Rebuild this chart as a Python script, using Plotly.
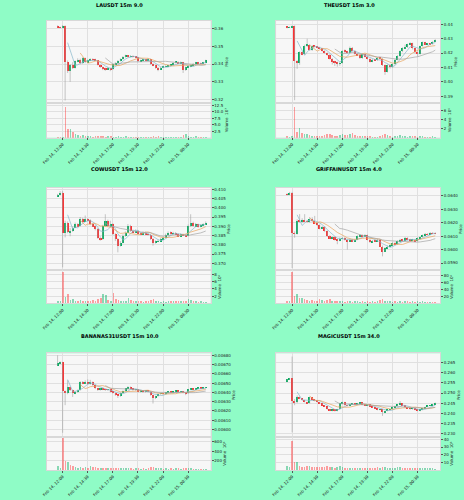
import pandas as pd
import plotly.graph_objects as go

# ---------------- data ----------------
times = pd.date_range("2025-02-14 11:30", periods=60, freq="15min")
tick_times = ["2025-02-14 12:00", "2025-02-14 14:30", "2025-02-14 17:00",
              "2025-02-14 19:30", "2025-02-14 22:00", "2025-02-15 00:30"]
titles = ["LAUSDT 15m 9.0", "THEUSDT 15m 3.0", "COWUSDT 15m 12.0",
          "GRIFFAINUSDT 15m 4.0", "BANANAS31USDT 15m 10.0", "MAGICUSDT 15m 34.0"]
mav_windows = [5, 10, 20]

lau_open = [0.3612,0.3606,0.3604,0.3613,0.3413,0.3362,0.3395,0.3380,0.3415,0.3425,0.3405,0.3432,0.3410,0.3420,0.3428,0.3426,0.3420,0.3395,0.3382,0.3375,0.3372,0.3378,0.3370,0.3398,0.3405,0.3418,0.3428,0.3440,0.3446,0.3442,0.3445,0.3440,0.3438,0.3415,0.3420,0.3425,0.3422,0.3428,0.3400,0.3392,0.3380,0.3372,0.3380,0.3385,0.3388,0.3390,0.3395,0.3408,0.3412,0.3405,0.3410,0.3368,0.3382,0.3385,0.3392,0.3402,0.3408,0.3405,0.3402,0.3408]
lau_high = [0.3616,0.3610,0.3618,0.3616,0.3420,0.3400,0.3410,0.3420,0.3432,0.3430,0.3438,0.3436,0.3425,0.3432,0.3432,0.3430,0.3422,0.3398,0.3386,0.3380,0.3384,0.3380,0.3402,0.3410,0.3422,0.3432,0.3444,0.3452,0.3450,0.3450,0.3448,0.3444,0.3440,0.3424,0.3430,0.3428,0.3432,0.3430,0.3404,0.3395,0.3384,0.3384,0.3390,0.3392,0.3394,0.3398,0.3412,0.3416,0.3415,0.3414,0.3412,0.3386,0.3390,0.3396,0.3406,0.3412,0.3412,0.3408,0.3412,0.3424]
lau_low = [0.3603,0.3600,0.3601,0.3196,0.3350,0.3300,0.3372,0.3375,0.3410,0.3398,0.3400,0.3405,0.3406,0.3416,0.3420,0.3416,0.3392,0.3378,0.3366,0.3362,0.3368,0.3360,0.3366,0.3396,0.3402,0.3414,0.3424,0.3436,0.3438,0.3438,0.3436,0.3432,0.3410,0.3412,0.3416,0.3418,0.3418,0.3396,0.3388,0.3374,0.3360,0.3368,0.3378,0.3382,0.3384,0.3386,0.3392,0.3404,0.3400,0.3400,0.3350,0.3362,0.3378,0.3382,0.3390,0.3398,0.3400,0.3398,0.3400,0.3404]
lau_close = [0.3606,0.3604,0.3613,0.3413,0.3362,0.3395,0.3380,0.3415,0.3425,0.3405,0.3432,0.3410,0.3420,0.3428,0.3426,0.3420,0.3395,0.3382,0.3375,0.3372,0.3378,0.3370,0.3398,0.3405,0.3418,0.3428,0.3440,0.3446,0.3442,0.3445,0.3440,0.3438,0.3415,0.3420,0.3425,0.3422,0.3428,0.3400,0.3392,0.3380,0.3372,0.3380,0.3385,0.3388,0.3390,0.3395,0.3408,0.3412,0.3405,0.3410,0.3368,0.3382,0.3385,0.3392,0.3402,0.3408,0.3405,0.3402,0.3408,0.3420]
lau_vol_1e7 = [0.4,0.3,0.5,11.7,3.3,3.4,2.1,1.6,1.0,0.8,1.2,0.7,0.6,0.9,0.5,0.6,0.8,0.7,0.6,0.5,0.7,0.6,0.4,0.5,0.6,0.5,0.4,0.7,0.5,0.4,0.3,0.4,0.5,0.3,0.4,0.3,0.4,0.5,0.6,0.4,0.9,0.5,0.4,0.3,0.4,0.3,0.4,0.5,0.3,0.4,1.1,1.4,0.6,0.5,0.4,0.6,0.3,0.4,0.3,0.2]

the_open = [0.4382,0.4377,0.4380,0.4388,0.4145,0.4130,0.4205,0.4192,0.4250,0.4258,0.4220,0.4250,0.4246,0.4240,0.4232,0.4215,0.4200,0.4188,0.4160,0.4140,0.4136,0.4125,0.4130,0.4215,0.4212,0.4203,0.4238,0.4215,0.4195,0.4185,0.4165,0.4192,0.4175,0.4160,0.4140,0.4152,0.4150,0.4168,0.4160,0.4115,0.4071,0.4118,0.4100,0.4122,0.4155,0.4180,0.4212,0.4235,0.4240,0.4260,0.4268,0.4232,0.4205,0.4195,0.4248,0.4275,0.4262,0.4265,0.4262,0.4280]
the_high = [0.4386,0.4384,0.4392,0.4392,0.4150,0.4212,0.4210,0.4258,0.4300,0.4262,0.4256,0.4254,0.4248,0.4244,0.4236,0.4220,0.4204,0.4192,0.4165,0.4146,0.4140,0.4136,0.4220,0.4225,0.4215,0.4245,0.4242,0.4220,0.4200,0.4190,0.4198,0.4196,0.4180,0.4164,0.4158,0.4158,0.4172,0.4172,0.4164,0.4120,0.4122,0.4124,0.4126,0.4160,0.4185,0.4218,0.4240,0.4258,0.4265,0.4275,0.4272,0.4236,0.4210,0.4252,0.4280,0.4278,0.4270,0.4268,0.4284,0.4296]
the_low = [0.4372,0.4374,0.4376,0.3872,0.4090,0.4118,0.4185,0.4188,0.4242,0.4215,0.4215,0.4240,0.4236,0.4228,0.4210,0.4195,0.4182,0.4155,0.4120,0.4110,0.4105,0.4112,0.4126,0.4200,0.4196,0.4198,0.4210,0.4190,0.4180,0.4160,0.4160,0.4170,0.4155,0.4135,0.4136,0.4145,0.4146,0.4155,0.4110,0.4048,0.4065,0.4092,0.4096,0.4118,0.4150,0.4175,0.4206,0.4228,0.4235,0.4255,0.4225,0.4198,0.4175,0.4190,0.4244,0.4256,0.4258,0.4255,0.4258,0.4276]
the_close = [0.4377,0.4380,0.4388,0.4145,0.4130,0.4205,0.4192,0.4250,0.4258,0.4220,0.4250,0.4246,0.4240,0.4232,0.4215,0.4200,0.4188,0.4160,0.4140,0.4136,0.4125,0.4130,0.4215,0.4212,0.4203,0.4238,0.4215,0.4195,0.4185,0.4165,0.4192,0.4175,0.4160,0.4140,0.4152,0.4150,0.4168,0.4160,0.4115,0.4071,0.4118,0.4100,0.4122,0.4155,0.4180,0.4212,0.4235,0.4240,0.4260,0.4268,0.4232,0.4205,0.4195,0.4248,0.4275,0.4262,0.4265,0.4262,0.4280,0.4292]
the_vol_1e6 = [0.4,0.3,0.4,6.8,1.3,2.2,1.1,0.9,0.9,0.6,0.5,0.5,0.4,0.4,0.5,0.6,0.8,0.9,0.7,0.5,0.4,0.6,0.8,0.7,0.6,0.8,1.1,0.6,0.5,0.4,0.5,0.4,0.5,0.4,0.3,0.3,0.3,0.4,0.7,0.9,0.6,0.4,0.3,0.5,0.4,0.6,0.5,0.4,0.3,0.4,0.5,0.4,0.3,0.5,0.4,0.3,0.2,0.3,0.4,0.3]

cow_open = [0.4065,0.4070,0.4082,0.3867,0.3921,0.3870,0.3876,0.3894,0.3912,0.3903,0.3939,0.3930,0.3939,0.3934,0.3912,0.3903,0.3885,0.3840,0.3831,0.3903,0.3930,0.3903,0.3912,0.3858,0.3831,0.3795,0.3813,0.3849,0.3867,0.3903,0.3876,0.3870,0.3876,0.3861,0.3858,0.3867,0.3858,0.3856,0.3831,0.3813,0.3818,0.3822,0.3831,0.3840,0.3854,0.3867,0.3861,0.3865,0.3858,0.3849,0.3858,0.3854,0.3849,0.3903,0.3921,0.3903,0.3912,0.3897,0.3908,0.3912]
cow_high = [0.4075,0.4090,0.4090,0.3930,0.3926,0.3890,0.3900,0.3920,0.3916,0.3950,0.3946,0.3958,0.3944,0.3938,0.3918,0.3908,0.3890,0.3846,0.3908,0.3965,0.3936,0.3930,0.3916,0.3862,0.3836,0.3820,0.3856,0.3872,0.3912,0.3908,0.3882,0.3882,0.3880,0.3866,0.3872,0.3870,0.3862,0.3860,0.3836,0.3824,0.3828,0.3836,0.3845,0.3860,0.3872,0.3872,0.3870,0.3868,0.3862,0.3862,0.3860,0.3858,0.3910,0.3965,0.3925,0.3918,0.3914,0.3912,0.3916,0.3926]
cow_low = [0.4060,0.4066,0.3678,0.3840,0.3862,0.3846,0.3870,0.3890,0.3896,0.3898,0.3924,0.3926,0.3928,0.3906,0.3896,0.3878,0.3832,0.3822,0.3826,0.3898,0.3896,0.3898,0.3852,0.3820,0.3759,0.3790,0.3808,0.3843,0.3862,0.3870,0.3864,0.3865,0.3856,0.3852,0.3854,0.3852,0.3850,0.3826,0.3795,0.3806,0.3814,0.3818,0.3826,0.3835,0.3850,0.3855,0.3856,0.3852,0.3842,0.3845,0.3848,0.3842,0.3845,0.3896,0.3898,0.3898,0.3892,0.3894,0.3904,0.3908]
cow_close = [0.4070,0.4082,0.3867,0.3921,0.3870,0.3876,0.3894,0.3912,0.3903,0.3939,0.3930,0.3939,0.3934,0.3912,0.3903,0.3885,0.3840,0.3831,0.3903,0.3930,0.3903,0.3912,0.3858,0.3831,0.3795,0.3813,0.3849,0.3867,0.3903,0.3876,0.3870,0.3876,0.3861,0.3858,0.3867,0.3858,0.3856,0.3831,0.3813,0.3818,0.3822,0.3831,0.3840,0.3854,0.3867,0.3861,0.3865,0.3858,0.3849,0.3858,0.3854,0.3849,0.3903,0.3921,0.3903,0.3912,0.3897,0.3908,0.3912,0.3921]
cow_vol_1e6 = [0.5,0.4,8.6,1.7,2.4,0.9,1.0,0.6,0.5,0.7,0.5,0.6,0.4,0.5,0.7,0.6,1.0,1.5,2.4,2.1,0.7,0.5,2.7,1.0,0.9,0.6,0.5,0.6,1.3,0.8,0.5,0.4,0.5,0.4,0.3,0.4,0.5,0.8,1.0,0.6,0.4,0.3,0.4,0.3,0.5,0.4,0.4,0.6,0.5,0.4,0.5,0.6,1.0,0.7,0.6,0.4,0.3,0.4,0.3,0.3]

grif_open = [0.06413,0.06408,0.06420,0.06125,0.06120,0.06218,0.06208,0.06225,0.06213,0.06208,0.06233,0.06213,0.06200,0.06183,0.06158,0.06170,0.06138,0.06100,0.06088,0.06093,0.06075,0.06068,0.06083,0.06088,0.06075,0.06063,0.06075,0.06063,0.06075,0.06100,0.06108,0.06100,0.06108,0.06075,0.06058,0.06068,0.06063,0.06075,0.06025,0.05988,0.06013,0.06025,0.06033,0.06050,0.06043,0.06063,0.06075,0.06068,0.06088,0.06075,0.06068,0.06075,0.06063,0.06088,0.06093,0.06108,0.06118,0.06113,0.06125,0.06123]
grif_high = [0.06418,0.06428,0.06428,0.06135,0.06225,0.06263,0.06232,0.06263,0.06220,0.06240,0.06240,0.06250,0.06205,0.06188,0.06176,0.06175,0.06142,0.06106,0.06098,0.06098,0.06080,0.06090,0.06094,0.06092,0.06080,0.06080,0.06080,0.06080,0.06106,0.06115,0.06112,0.06114,0.06112,0.06080,0.06072,0.06072,0.06080,0.06080,0.06030,0.06018,0.06030,0.06038,0.06055,0.06055,0.06068,0.06080,0.06080,0.06093,0.06092,0.06080,0.06080,0.06080,0.06092,0.06098,0.06112,0.06123,0.06123,0.06130,0.06130,0.06128]
grif_low = [0.06402,0.06404,0.05863,0.06088,0.06112,0.06200,0.06200,0.06205,0.06200,0.06200,0.06205,0.06195,0.06176,0.06150,0.06152,0.06130,0.06094,0.06080,0.06082,0.06068,0.06040,0.06062,0.06078,0.06068,0.06000,0.06058,0.06056,0.06058,0.06070,0.06095,0.06094,0.06096,0.06068,0.06050,0.06052,0.06056,0.06058,0.06020,0.05950,0.05982,0.06008,0.06020,0.06028,0.06036,0.06038,0.06058,0.06062,0.06062,0.06068,0.06062,0.06062,0.06056,0.06058,0.06082,0.06088,0.06104,0.06106,0.06108,0.06116,0.06114]
grif_close = [0.06408,0.06420,0.06125,0.06120,0.06218,0.06208,0.06225,0.06213,0.06208,0.06233,0.06213,0.06200,0.06183,0.06158,0.06170,0.06138,0.06100,0.06088,0.06093,0.06075,0.06068,0.06083,0.06088,0.06075,0.06063,0.06075,0.06063,0.06075,0.06100,0.06108,0.06100,0.06108,0.06075,0.06058,0.06068,0.06063,0.06075,0.06025,0.05988,0.06013,0.06025,0.06033,0.06050,0.06043,0.06063,0.06075,0.06068,0.06088,0.06075,0.06068,0.06075,0.06063,0.06088,0.06093,0.06108,0.06118,0.06113,0.06125,0.06123,0.06120]
grif_vol_1e6 = [6,5,89,20,27,15,13,11,8,7,9,6,7,11,8,6,10,11,7,6,5,6,5,4,6,5,4,5,6,4,5,4,5,4,5,4,6,10,11,7,6,5,4,5,4,5,4,6,5,4,5,4,5,4,5,4,3,4,3,4]

ban_open = [0.006692,0.006710,0.006725,0.006413,0.006387,0.006452,0.006423,0.006387,0.006405,0.006423,0.006513,0.006495,0.006513,0.006488,0.006513,0.006477,0.006441,0.006423,0.006441,0.006430,0.006423,0.006430,0.006405,0.006395,0.006370,0.006359,0.006395,0.006416,0.006441,0.006459,0.006441,0.006423,0.006430,0.006405,0.006416,0.006402,0.006413,0.006405,0.006370,0.006334,0.006359,0.006380,0.006387,0.006380,0.006395,0.006405,0.006395,0.006402,0.006416,0.006402,0.006409,0.006395,0.006387,0.006430,0.006438,0.006430,0.006441,0.006445,0.006441,0.006448]
ban_high = [0.006800,0.006735,0.006730,0.006420,0.006531,0.006460,0.006428,0.006412,0.006430,0.006520,0.006522,0.006530,0.006540,0.006535,0.006518,0.006482,0.006446,0.006448,0.006446,0.006436,0.006436,0.006434,0.006410,0.006398,0.006375,0.006400,0.006420,0.006446,0.006466,0.006464,0.006446,0.006436,0.006434,0.006422,0.006420,0.006418,0.006418,0.006410,0.006374,0.006364,0.006386,0.006392,0.006392,0.006400,0.006410,0.006410,0.006406,0.006420,0.006420,0.006414,0.006414,0.006400,0.006436,0.006444,0.006442,0.006446,0.006450,0.006450,0.006452,0.006458]
ban_low = [0.006685,0.006705,0.005964,0.006262,0.006380,0.006415,0.006350,0.006380,0.006398,0.006418,0.006488,0.006490,0.006482,0.006482,0.006470,0.006435,0.006416,0.006418,0.006424,0.006416,0.006418,0.006400,0.006388,0.006362,0.006340,0.006352,0.006390,0.006410,0.006436,0.006436,0.006418,0.006418,0.006400,0.006400,0.006396,0.006398,0.006400,0.006364,0.006280,0.006328,0.006354,0.006375,0.006374,0.006376,0.006390,0.006390,0.006390,0.006396,0.006396,0.006398,0.006390,0.006370,0.006382,0.006424,0.006424,0.006426,0.006436,0.006436,0.006436,0.006442]
ban_close = [0.006710,0.006728,0.006413,0.006387,0.006452,0.006423,0.006387,0.006405,0.006423,0.006513,0.006495,0.006513,0.006488,0.006513,0.006477,0.006441,0.006423,0.006441,0.006430,0.006423,0.006430,0.006405,0.006395,0.006370,0.006359,0.006395,0.006416,0.006441,0.006459,0.006441,0.006423,0.006430,0.006405,0.006416,0.006402,0.006413,0.006405,0.006370,0.006334,0.006359,0.006380,0.006387,0.006380,0.006395,0.006405,0.006395,0.006402,0.006416,0.006402,0.006409,0.006395,0.006387,0.006430,0.006438,0.006430,0.006441,0.006445,0.006441,0.006448,0.006452]
ban_vol_1e6 = [73,36,669,182,160,109,73,58,50,65,45,55,50,87,60,58,45,40,50,45,38,42,35,40,45,38,35,40,36,35,30,32,35,30,33,30,35,55,60,42,38,33,30,35,30,33,30,35,32,30,33,36,40,35,30,28,30,28,26,25]

mag_open = [0.25576,0.25658,0.25706,0.24604,0.24523,0.24799,0.24718,0.24653,0.24556,0.24491,0.24766,0.24685,0.24604,0.24556,0.24491,0.24394,0.24329,0.24199,0.24135,0.24167,0.24118,0.24199,0.24491,0.24556,0.24394,0.24361,0.24426,0.24491,0.24442,0.24491,0.24523,0.24426,0.24394,0.24426,0.24329,0.24280,0.24232,0.24167,0.24199,0.24037,0.24118,0.24167,0.24199,0.24280,0.24361,0.24426,0.24491,0.24394,0.24280,0.24248,0.24199,0.24232,0.24167,0.24118,0.24167,0.24232,0.24313,0.24361,0.24394,0.24442]
mag_high = [0.25690,0.25740,0.26792,0.24700,0.24880,0.24830,0.24730,0.24670,0.24570,0.24820,0.24780,0.24700,0.24620,0.24570,0.24500,0.24410,0.24340,0.24210,0.24180,0.24180,0.24220,0.24520,0.24580,0.24570,0.24410,0.24440,0.24510,0.24500,0.24510,0.24540,0.24530,0.24440,0.24440,0.24440,0.24340,0.24290,0.24240,0.24220,0.24210,0.24130,0.24180,0.24210,0.24300,0.24380,0.24440,0.24604,0.24500,0.24400,0.24300,0.24260,0.24250,0.24240,0.24180,0.24180,0.24250,0.24330,0.24380,0.24410,0.24460,0.24530]
mag_low = [0.25560,0.25640,0.23065,0.24400,0.24500,0.24700,0.24630,0.24540,0.24470,0.24480,0.24670,0.24590,0.24540,0.24470,0.24380,0.24310,0.24180,0.24110,0.24100,0.24090,0.24100,0.24180,0.24470,0.24380,0.24340,0.24350,0.24410,0.24430,0.24430,0.24480,0.24410,0.24380,0.24380,0.24310,0.24260,0.24210,0.24150,0.24150,0.23875,0.24020,0.24100,0.24150,0.24180,0.24270,0.24350,0.24410,0.24380,0.24260,0.24230,0.24180,0.24180,0.24150,0.24100,0.24100,0.24150,0.24220,0.24300,0.24350,0.24380,0.24430]
mag_close = [0.25658,0.25706,0.24604,0.24523,0.24799,0.24718,0.24653,0.24556,0.24491,0.24766,0.24685,0.24604,0.24556,0.24491,0.24394,0.24329,0.24199,0.24135,0.24167,0.24118,0.24199,0.24491,0.24556,0.24394,0.24361,0.24426,0.24491,0.24442,0.24491,0.24523,0.24426,0.24394,0.24426,0.24329,0.24280,0.24232,0.24167,0.24199,0.24037,0.24118,0.24167,0.24199,0.24280,0.24361,0.24426,0.24491,0.24394,0.24280,0.24248,0.24199,0.24232,0.24167,0.24118,0.24167,0.24232,0.24313,0.24361,0.24394,0.24442,0.24507]
mag_vol_1e6 = [4.5,3.8,37.5,10.4,10.4,5.4,4.2,4.0,4.5,4.8,3.9,3.5,4.2,3.6,3.2,3.8,4.5,4.0,3.6,3.0,3.5,4.6,4.2,3.0,2.8,2.6,3.0,2.5,2.8,2.4,2.5,2.2,2.6,2.4,2.5,2.8,3.2,3.0,4.2,3.2,2.8,2.5,2.6,3.0,3.5,3.8,2.9,2.6,2.5,2.4,2.2,2.6,2.8,2.4,2.2,2.0,2.3,2.1,2.0,1.8]

# ---------------- styling / layout ----------------
W, H = 464, 500
BG = "#8ffcc6"
FACE = "#f7f7f7"
GRID = "#e0e0e0"
UP, DOWN = "#00b060", "#fe3032"
UP_V, DOWN_V = "rgba(0,176,96,0.45)", "rgba(254,48,50,0.45)"
WICK = "#a0a0a0"
MA_COLORS = ["#86b8cc", "#e8a35c", "#a4a4a4"]
FONT = "DejaVu Sans"

panels = [
    (lau_open, lau_high, lau_low, lau_close, lau_vol_1e7),
    (the_open, the_high, the_low, the_close, the_vol_1e6),
    (cow_open, cow_high, cow_low, cow_close, cow_vol_1e6),
    (grif_open, grif_high, grif_low, grif_close, grif_vol_1e6),
    (ban_open, ban_high, ban_low, ban_close, ban_vol_1e6),
    (mag_open, mag_high, mag_low, mag_close, mag_vol_1e6),
]

cfg = [
    dict(col=0, row=0, yr=[0.3183, 0.3641], dt=0.01, fmt=".2f", vr=[0, 13.4], vt=[2.5, 5, 7.5, 10, 12.5], vtxt=["2.5", "5.0", "7.5", "10.0", "12.5"], vexp="⁷"),
    dict(col=1, row=0, yr=[0.3854, 0.4423], dt=0.01, fmt=".2f", vr=[0, 7.8], vt=[2, 4, 6], vtxt=["2", "4", "6"], vexp="⁶"),
    dict(col=0, row=1, yr=[0.3661, 0.4109], dt=0.005, fmt=".3f", vr=[0, 9.1], vt=[2, 4, 6, 8], vtxt=["2", "4", "6", "8"], vexp="⁶"),
    dict(col=1, row=1, yr=[0.05845, 0.0646], dt=0.001, fmt=".4f", vr=[0, 96], vt=[20, 40, 60, 80], vtxt=["20", "40", "60", "80"], vexp="⁶"),
    dict(col=0, row=2, yr=[0.005917, 0.006822], dt=0.0001, fmt=".5f", vr=[0, 698], vt=[200, 400, 600], vtxt=["200", "400", "600"], vexp="⁶"),
    dict(col=1, row=2, yr=[0.2283, 0.26954], dt=0.005, fmt=".3f", vr=[0, 43], vt=[10, 20, 30, 40], vtxt=["10", "20", "30", "40"], vexp="⁶"),
]

col_px = [(42, 208), (274, 440)]
row_px = [(20, 102, 137), (187, 270, 303), (353, 437, 470)]
title_y_px = [4, 168, 336]
title_x_px = [116, 348]

step = pd.Timedelta(minutes=15)
x_range = [times[0] - 4.4 * step, times[-1] + 2.0 * step]
bar_w = 0.62 * step.total_seconds() * 1000

fig = go.Figure()
layout = dict(
    width=W, height=H, margin=dict(l=0, r=0, t=0, b=0),
    paper_bgcolor=BG, plot_bgcolor=FACE, showlegend=False,
    font=dict(family=FONT, size=4, color="#222"),
    bargap=0, annotations=[],
)

def fx(px):
    return px / W

def fy(py):
    return 1 - py / H

for k, ((o, h, l, c, v), cf) in enumerate(zip(panels, cfg)):
    pa, va = 2 * k + 1, 2 * k + 2
    x0, x1 = col_px[cf["col"]]
    top, mid, bot = row_px[cf["row"]]
    span = cf["yr"][1] - cf["yr"][0]
    minh = span * 0.004

    # wicks
    wx, wy = [], []
    for t, hi, lo in zip(times, h, l):
        wx += [t, t, None]
        wy += [lo, hi, None]
    fig.add_trace(go.Scatter(x=wx, y=wy, mode="lines", line=dict(color=WICK, width=0.6),
                             xaxis=f"x{pa}", yaxis=f"y{pa}", hoverinfo="skip"))
    # bodies
    up = [ci >= oi for oi, ci in zip(o, c)]
    base = [min(oi, ci) for oi, ci in zip(o, c)]
    hgt = [max(abs(ci - oi), minh) for oi, ci in zip(o, c)]
    fig.add_trace(go.Bar(x=times, y=hgt, base=base, width=bar_w,
                         marker=dict(color=[UP if u else DOWN for u in up], line=dict(width=0)),
                         xaxis=f"x{pa}", yaxis=f"y{pa}"))
    # moving averages
    cs = pd.Series(c)
    for w, col in zip(mav_windows, MA_COLORS):
        ma = cs.rolling(w).mean()
        fig.add_trace(go.Scatter(x=times, y=[None if pd.isna(m) else m for m in ma], mode="lines",
                                 line=dict(color=col, width=0.7),
                                 xaxis=f"x{pa}", yaxis=f"y{pa}", hoverinfo="skip"))
    # volume
    fig.add_trace(go.Bar(x=times, y=v, width=bar_w,
                         marker=dict(color=[UP_V if u else DOWN_V for u in up], line=dict(width=0)),
                         xaxis=f"x{va}", yaxis=f"y{va}"))

    common_x = dict(domain=[fx(x0), fx(x1)], type="date", range=x_range,
                    tickvals=tick_times, showgrid=True, gridcolor=GRID, gridwidth=0.5,
                    zeroline=False, showline=True, linecolor="#d8d8d8", linewidth=0.5, mirror=True)
    layout[f"xaxis{pa}"] = dict(common_x, anchor=f"y{pa}", showticklabels=False, ticks="")
    layout[f"xaxis{va}"] = dict(common_x, anchor=f"y{va}", matches=f"x{pa}",
                                showticklabels=True, tickformat="%b %d, %H:%M", tickangle=-45,
                                ticks="outside", ticklen=2, tickwidth=0.5, tickcolor="#555",
                                tickfont=dict(size=4, color="#222"))
    common_y = dict(side="right", showgrid=True, gridcolor=GRID, gridwidth=0.5, zeroline=False,
                    ticks="outside", ticklen=2, tickwidth=0.5, tickcolor="#555",
                    tickfont=dict(size=4, color="#222"),
                    showline=True, linecolor="#d8d8d8", linewidth=0.5, mirror=True)
    layout[f"yaxis{pa}"] = dict(common_y, domain=[fy(mid), fy(top)], anchor=f"x{pa}",
                                range=cf["yr"], dtick=cf["dt"], tick0=0, tickformat=cf["fmt"],
                                title=dict(text="Price", font=dict(size=4), standoff=1))
    layout[f"yaxis{va}"] = dict(common_y, domain=[fy(bot), fy(mid)], anchor=f"x{va}",
                                range=cf["vr"], tickvals=cf["vt"], ticktext=cf["vtxt"],
                                title=dict(text=f"Volume  10{cf['vexp']}", font=dict(size=4), standoff=1))

    layout["annotations"].append(dict(
        text=f"<b>{titles[k]}</b>", x=fx(title_x_px[cf["col"]]), y=fy(title_y_px[cf["row"]]),
        xref="paper", yref="paper", showarrow=False, xanchor="center", yanchor="middle",
        font=dict(size=5, color="#000", family=FONT)))

fig.update_layout(**layout)
fig.write_html("out.html")
